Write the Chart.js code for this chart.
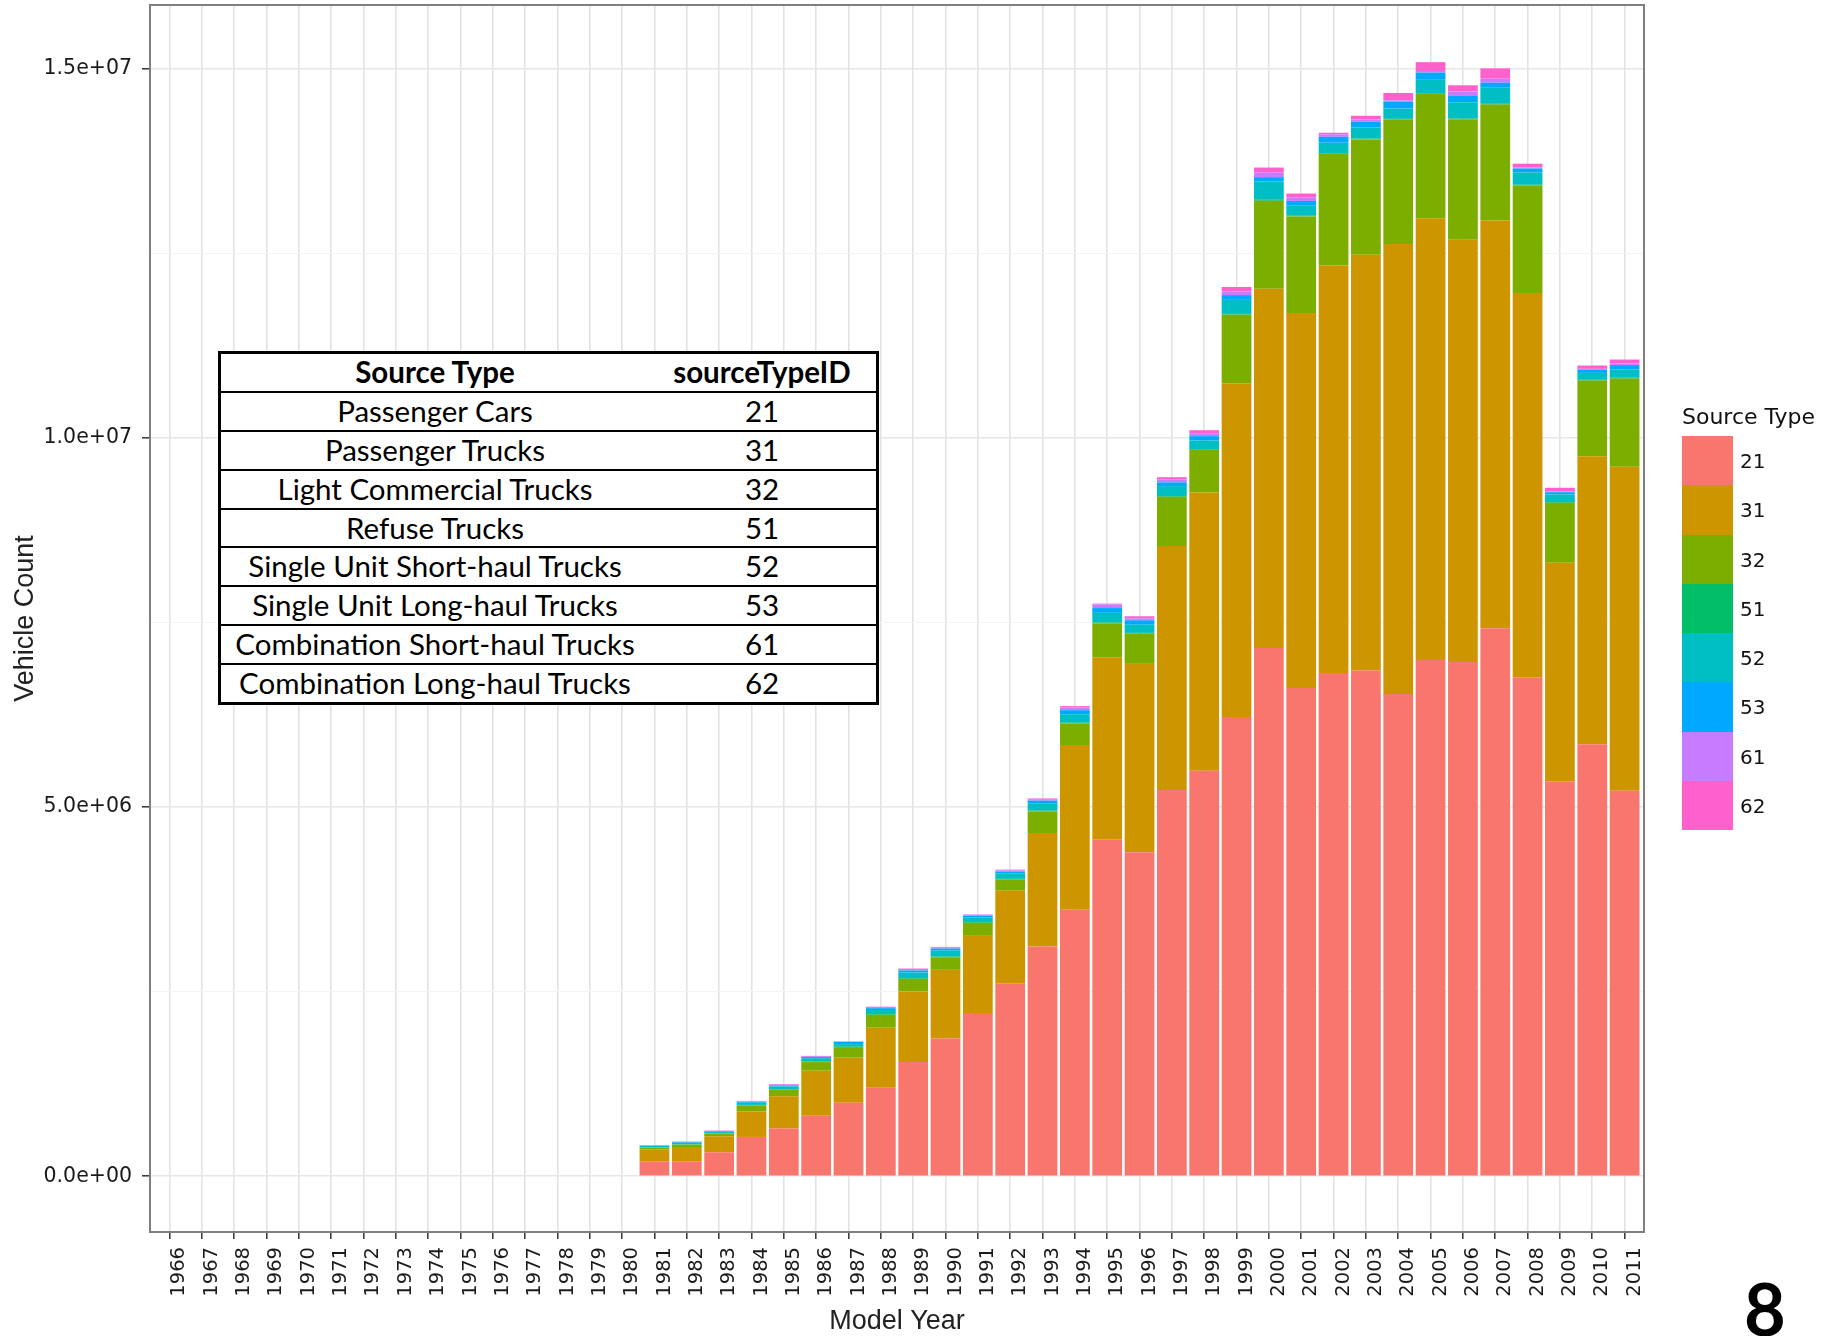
<!DOCTYPE html>
<html>
<head>
<meta charset="utf-8">
<script src="https://cdn.jsdelivr.net/npm/chart.js@4.4.1/dist/chart.umd.min.js"></script>
<style>
  html, body { margin: 0; padding: 0; background: #fff; }
  #wrap { position: relative; width: 1835px; height: 1336px; overflow: hidden; }
  #chart { position: absolute; left: 0; top: 0; }
  #typeTable {
    position: absolute; left: 218px; top: 351px; width: 661px;
    box-sizing: border-box; border: 3px solid #000; background: #fff;
    font-family: Lato, "Open Sans", sans-serif; font-size: 29.5px; color: #000;
  }
  #typeTable .row { display: flex; height: 36.9px; line-height: 36.9px; border-top: 2.5px solid #000; }
  #typeTable .row:first-child { border-top: none; font-weight: bold; }
  #typeTable .c1 { width: 428px; text-align: center; }
  #typeTable .c2 { width: 226px; text-align: center; }
  #legend { position: absolute; left: 1682px; top: 404px; font-family: "DejaVu Sans", sans-serif; color: #111; }
  #legend .title { font-size: 22px; height: 32px; line-height: 26px; }
  #legend .item { position: relative; height: 49.3px; }
  #legend .key { position: absolute; left: 0; top: 0; width: 51px; height: 49.3px; }
  #legend .lab { position: absolute; left: 58px; top: 13px; font-size: 20px; }
  #pageNo { position: absolute; left: 1744px; top: 1272px; font: bold 72px Lato, sans-serif; line-height: 1; }
</style>
</head>
<body>
<div id="wrap">
  <canvas id="chart" width="1835" height="1336"></canvas>
  <div id="typeTable"></div>
  <div id="legend"></div>
  <div id="pageNo">8</div>
</div>
<script>
// ---------- DATA ----------
const years = [1981, 1982, 1983, 1984, 1985, 1986, 1987, 1988, 1989, 1990,
  1991, 1992, 1993, 1994, 1995, 1996, 1997, 1998, 1999, 2000,
  2001, 2002, 2003, 2004, 2005, 2006, 2007, 2008, 2009, 2010, 2011];

const sourceIds = ["21", "31", "32", "51", "52", "53", "61", "62"];
const sourceNames = [
  "Passenger Cars", "Passenger Trucks", "Light Commercial Trucks", "Refuse Trucks",
  "Single Unit Short-haul Trucks", "Single Unit Long-haul Trucks",
  "Combination Short-haul Trucks", "Combination Long-haul Trucks",
];
const sourceColors = ["#F8766D", "#CD9600", "#7CAE00", "#00BE67", "#00BFC4", "#00A9FF", "#C77CFF", "#FF61CC"];

const type21 = [203000, 203000, 325000, 532000, 645000, 820000, 996000, 1199000, 1546000, 1866000,
  2209000, 2615000, 3111000, 3607000, 4562000, 4386000, 5229000, 5491000, 6220000, 7154000,
  6613000, 6816000, 6850000, 6530000, 6990000, 6965000, 7420000, 6757000, 5350000, 5850000, 5220000];
const type31 = [157000, 193000, 216000, 347000, 437000, 609000, 609000, 812000, 956000, 929000,
  1046000, 1253000, 1537000, 2231000, 2466000, 2552000, 3305000, 3769000, 4519000, 4865000,
  5077000, 5518000, 5628000, 6093000, 5984000, 5717000, 5523000, 5203000, 2958000, 3901000, 4387000];
const type32 = [28000, 32000, 36000, 81000, 90000, 117000, 144000, 175000, 171000, 171000,
  176000, 149000, 293000, 293000, 461000, 410000, 667000, 577000, 928000, 1190000,
  1307000, 1511000, 1562000, 1686000, 1682000, 1631000, 1569000, 1456000, 812000, 1024000, 1195000];
const type51 = [5000, 5000, 5000, 6000, 8000, 8000, 10000, 10000, 10000, 10000,
  10000, 10000, 10000, 10000, 10000, 10000, 10000, 10000, 10000, 20000,
  15000, 10000, 10000, 10000, 10000, 10000, 10000, 10000, 10000, 10000, 10000];
const type52 = [20000, 18000, 18000, 30000, 35000, 45000, 30000, 55000, 75000, 82000,
  65000, 75000, 100000, 115000, 130000, 110000, 135000, 115000, 190000, 240000,
  130000, 140000, 150000, 140000, 190000, 220000, 225000, 166000, 103000, 93000, 112000];
const type53 = [4000, 8000, 8000, 12000, 15000, 15000, 30000, 25000, 28000, 25000,
  22000, 25000, 35000, 55000, 65000, 60000, 50000, 60000, 65000, 60000,
  65000, 80000, 80000, 90000, 90000, 85000, 60000, 54000, 30000, 45000, 60000];
const type61 = [2000, 8000, 8000, 8000, 15000, 12000, 5000, 15000, 22000, 18000,
  12000, 15000, 20000, 35000, 50000, 25000, 40000, 40000, 50000, 60000,
  50000, 30000, 30000, 20000, 20000, 60000, 55000, 15000, 10000, 10000, 20000];
const type62 = [2000, 4000, 4000, 4000, 5000, 4000, 3000, 5000, 5000, 5000,
  5000, 10000, 10000, 20000, 10000, 30000, 30000, 40000, 60000, 70000,
  50000, 25000, 50000, 100000, 120000, 85000, 140000, 50000, 50000, 45000, 55000];

const seriesValues = [type21, type31, type32, type51, type52, type53, type61, type62];

// axis ranges (ggplot expands by 0.6 units / 5%)
const xMin = 1965.4;
const xMax = 2011.6;
const yMin = -755000;
const yMax = 15860000;
const yTicks = [0, 2500000, 5000000, 7500000, 10000000, 12500000, 15000000];
const yMajorLabels = { 0: "0.0e+00", 5000000: "5.0e+06", 10000000: "1.0e+07", 15000000: "1.5e+07" };

// ---------- TABLE + LEGEND ----------
const table = document.getElementById("typeTable");
table.innerHTML = '<div class="row"><span class="c1">Source Type</span><span class="c2">sourceTypeID</span></div>' +
  sourceNames.map((n, i) =>
    `<div class="row"><span class="c1">${n}</span><span class="c2">${sourceIds[i]}</span></div>`).join("");

const legend = document.getElementById("legend");
legend.innerHTML = '<div class="title">Source Type</div>' +
  sourceIds.map((id, i) =>
    `<div class="item"><div class="key" style="background:${sourceColors[i]}"></div><span class="lab">${id}</span></div>`).join("");

// ---------- CHART ----------
const panelBorder = {
  id: "panelBorder",
  afterDraw(chart) {
    const { ctx, chartArea: a } = chart;
    ctx.save();
    ctx.strokeStyle = "#7f7f7f";
    ctx.lineWidth = 2;
    ctx.strokeRect(a.left, a.top, a.right - a.left, a.bottom - a.top);
    ctx.restore();
  },
};

const isMajor = (c) => c.tick && yMajorLabels[c.tick.value] !== undefined;

Chart.defaults.font.family = "'DejaVu Sans', sans-serif";

new Chart(document.getElementById("chart").getContext("2d"), {
  type: "bar",
  data: {
    datasets: seriesValues.map((vals, i) => ({
      label: sourceIds[i],
      data: years.map((y, j) => ({ x: y, y: vals[j] })),
      backgroundColor: sourceColors[i],
      borderWidth: 0,
      barPercentage: 0.92,
      categoryPercentage: 1.0,
    })),
  },
  options: {
    responsive: false,
    animation: false,
    layout: { padding: { left: 0, top: 5, right: 191, bottom: 0 } },
    plugins: { legend: { display: false }, tooltip: { enabled: false } },
    scales: {
      x: {
        type: "linear",
        stacked: true,
        offset: false,
        min: xMin,
        max: xMax,
        afterFit: (s) => { s.height = 104; s.paddingLeft = 0; s.paddingRight = 0; },
        border: { display: false },
        grid: { offset: false, color: "#e2e2e2", lineWidth: 1.6, tickColor: "#333", tickLength: 7, tickWidth: 1.5 },
        ticks: {
          stepSize: 1,
          includeBounds: false,
          autoSkip: false,
          minRotation: 90,
          maxRotation: 90,
          padding: 8,
          labelOffset: 10,
          color: "#1a1a1a",
          font: { size: 19.5 },
          callback: (v) => String(v),
        },
        title: {
          display: true,
          text: "Model Year",
          color: "#222",
          font: { family: "'Liberation Sans', Arial, sans-serif", size: 27, lineHeight: 1 },
          padding: { top: 0, bottom: 1 },
        },
      },
      y: {
        stacked: true,
        min: yMin,
        max: yMax,
        afterBuildTicks: (s) => { s.ticks = yTicks.map((v) => ({ value: v })); },
        afterFit: (s) => { s.width = 150; s.paddingTop = 0; s.paddingBottom = 0; },
        border: { display: false },
        grid: {
          color: (c) => (isMajor(c) ? "#e6e6e6" : "#f3f3f3"),
          lineWidth: (c) => (isMajor(c) ? 1.6 : 1),
          tickColor: (c) => (isMajor(c) ? "#333" : "rgba(0,0,0,0)"),
          tickLength: 8,
          tickWidth: 1.5,
        },
        ticks: {
          padding: 10,
          color: "#1a1a1a",
          font: { size: 20.5 },
          callback: (v) => yMajorLabels[v] || "",
        },
        title: {
          display: true,
          text: "Vehicle Count",
          color: "#222",
          font: { family: "'Liberation Sans', Arial, sans-serif", size: 27, lineHeight: 1 },
          padding: { top: 12, bottom: 0 },
        },
      },
    },
  },
  plugins: [panelBorder],
});
</script>
</body>
</html>
